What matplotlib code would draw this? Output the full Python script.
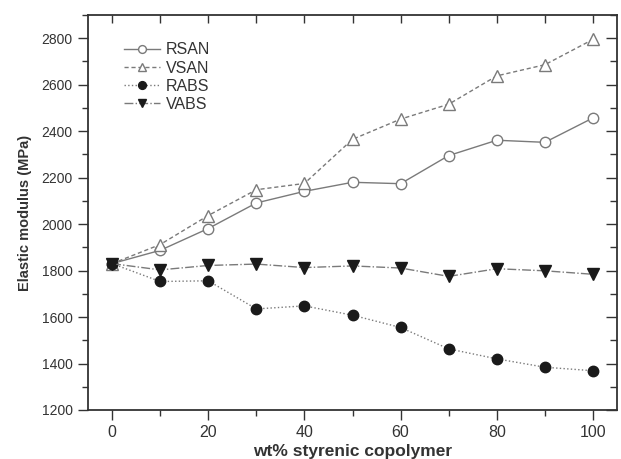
import matplotlib
matplotlib.use("Agg")
import matplotlib.pyplot as plt
from matplotlib.ticker import MultipleLocator

plt.rcParams["font.family"] = ["Liberation Sans", "DejaVu Sans"]

# styrenic copolymer content (wt%)
wt = [0, 10, 20, 30, 40, 50, 60, 70, 80, 90, 100]

# elastic modulus (MPa) for each blend series
rsan = [1830, 1887, 1981, 2091, 2141, 2180, 2174, 2295, 2361, 2352, 2457]
vsan = [1830, 1912, 2037, 2148, 2175, 2365, 2452, 2516, 2638, 2686, 2795]
rabs = [1830, 1753, 1756, 1635, 1648, 1608, 1555, 1463, 1420, 1384, 1369]
vabs = [1830, 1803, 1822, 1828, 1813, 1820, 1811, 1775, 1808, 1799, 1784]

GRAY = "#7a7a7a"
DARK = "#333333"

fig = plt.figure(figsize=(6.21, 4.59), dpi=100)
ax = fig.add_axes([0.1417, 0.1068, 0.8519, 0.8605])

ax.plot(wt, rsan, "-", color=GRAY, lw=1.0, marker="o", ms=7.5,
        mfc="white", mec=GRAY, mew=1.0, label="RSAN")
ax.plot(wt, vsan, "--", color=GRAY, lw=1.0, dashes=(3, 2), marker="^", ms=8,
        mfc="white", mec=GRAY, mew=1.0, label="VSAN")
ax.plot(wt, rabs, ":", color=GRAY, lw=1.0, marker="o", ms=7.5,
        mfc="#1a1a1a", mec="#1a1a1a", label="RABS")
ax.plot(wt, vabs, "-.", color=GRAY, lw=1.0, marker="v", ms=8,
        mfc="#1a1a1a", mec="#1a1a1a", label="VABS")

ax.set_xlim(-5, 105)
ax.set_ylim(1200, 2900)
ax.xaxis.set_major_locator(MultipleLocator(20))
ax.xaxis.set_minor_locator(MultipleLocator(10))
ax.yaxis.set_major_locator(MultipleLocator(200))
ax.yaxis.set_minor_locator(MultipleLocator(100))
ax.set_yticks([1200, 1400, 1600, 1800, 2000, 2200, 2400, 2600, 2800])

for s in ax.spines.values():
    s.set_color(DARK)
    s.set_linewidth(1.3)

ax.tick_params(which="both", direction="out", top=False, right=False,
               color=DARK, labelcolor=DARK, width=1.0)
ax.tick_params(axis="y", labelsize=10)
ax.tick_params(axis="x", labelsize=11.5)
ax.tick_params(which="major", length=7, pad=4)
ax.tick_params(which="minor", length=4)

# mirrored inward ticks on the top and right edges
sec_x = ax.secondary_xaxis("top")
sec_x.xaxis.set_major_locator(MultipleLocator(10))
sec_x.tick_params(direction="in", length=6, width=1.0, color=DARK, labeltop=False)
sec_x.spines["top"].set_visible(False)
sec_y = ax.secondary_yaxis("right")
sec_y.yaxis.set_major_locator(MultipleLocator(200))
sec_y.yaxis.set_minor_locator(MultipleLocator(100))
sec_y.tick_params(which="major", direction="in", length=8, width=1.0, color=DARK, labelright=False)
sec_y.tick_params(which="minor", direction="in", length=5, width=1.0, color=DARK)
sec_y.spines["right"].set_visible(False)

ax.set_xlabel("wt% styrenic copolymer", fontsize=12.5, fontweight="bold",
              color=DARK, labelpad=3)
ax.set_ylabel("Elastic modulus (MPa)", fontsize=10.5, fontweight="bold",
              color=DARK, labelpad=7)

leg = ax.legend(loc="upper left", bbox_to_anchor=(0.04, 0.967), frameon=False,
                fontsize=11.5, handlelength=2.3, handletextpad=0.35,
                labelspacing=0.2, markerscale=0.75)
for t in leg.get_texts():
    t.set_color(DARK)

fig.savefig("out.png", dpi=100)
